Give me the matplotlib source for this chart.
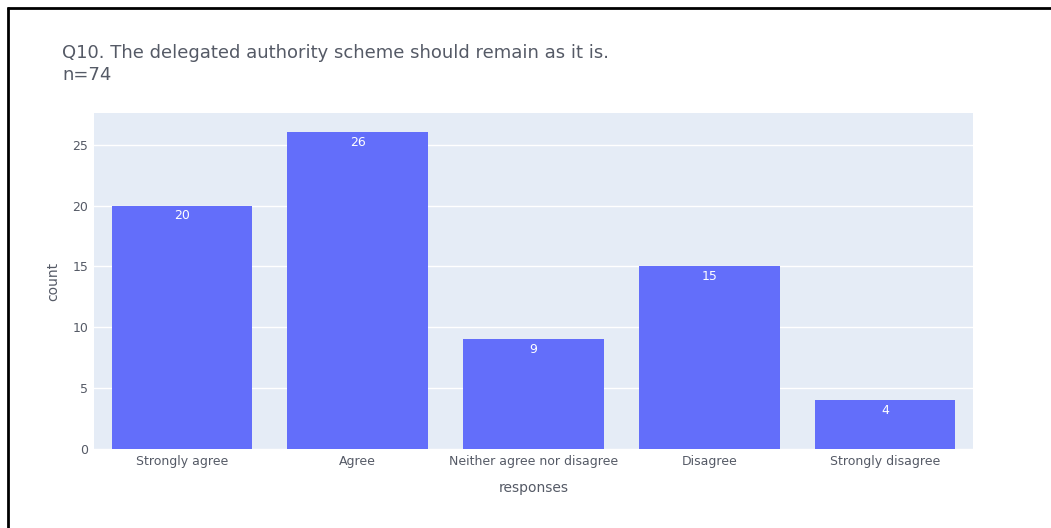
"""Q10 delegated authority scheme - response counts (plotly-like bar chart)"""

import matplotlib.pyplot as plt
from matplotlib.lines import Line2D
import numpy as np

responses = ["Strongly agree", "Agree", "Neither agree nor disagree", "Disagree", "Strongly disagree"]
counts = [20, 26, 9, 15, 4]
title = "Q10. The delegated authority scheme should remain as it is.\nn=74"

plt.rcParams["font.family"] = ["DejaVu Sans"]
text_col = "#555a66"

fig = plt.figure(figsize=(10.51, 5.28), dpi=100)
ax = fig.add_axes([94 / 1051, 1 - 449 / 528, 879 / 1051, 336 / 528])

x = np.arange(len(responses))
ax.set_facecolor("#E5ECF6")
bars = ax.bar(x, counts, 0.8, color="#636EFA", zorder=3)

for b, c in zip(bars, counts):
    ax.text(b.get_x() + b.get_width() / 2, c - 0.3, str(c), ha="center", va="top",
            color="white", fontsize=9, zorder=4)

ax.set_xlim(-0.5, len(responses) - 0.5)
ax.set_ylim(0, max(counts) * 1.05 + 0.3)
ax.set_yticks([0, 5, 10, 15, 20, 25])
ax.set_xticks(x, responses)
ax.grid(axis="y", color="white", linewidth=1, zorder=0)
ax.tick_params(length=0, labelsize=9, labelcolor=text_col, pad=4)
ax.tick_params(axis="x", pad=4)
for s in ax.spines.values():
    s.set_visible(False)

ax.set_xlabel("responses", fontsize=10, color=text_col, labelpad=10)
ax.set_ylabel("count", fontsize=10, color=text_col, labelpad=9)

fig.text(62 / 1051, 1 - 44 / 528, title, ha="left", va="top", fontsize=13,
         color=text_col, linespacing=1.25)

# screenshot frame (top and left edges only)
fig.add_artist(Line2D([7 / 1051, 1], [1 - 8 / 528, 1 - 8 / 528], color="black", linewidth=2,
                      solid_capstyle="butt", transform=fig.transFigure))
fig.add_artist(Line2D([8 / 1051, 8 / 1051], [0, 1 - 7 / 528], color="black", linewidth=2,
                      solid_capstyle="butt", transform=fig.transFigure))

fig.savefig("out.png", dpi=100)
plt.close(fig)
